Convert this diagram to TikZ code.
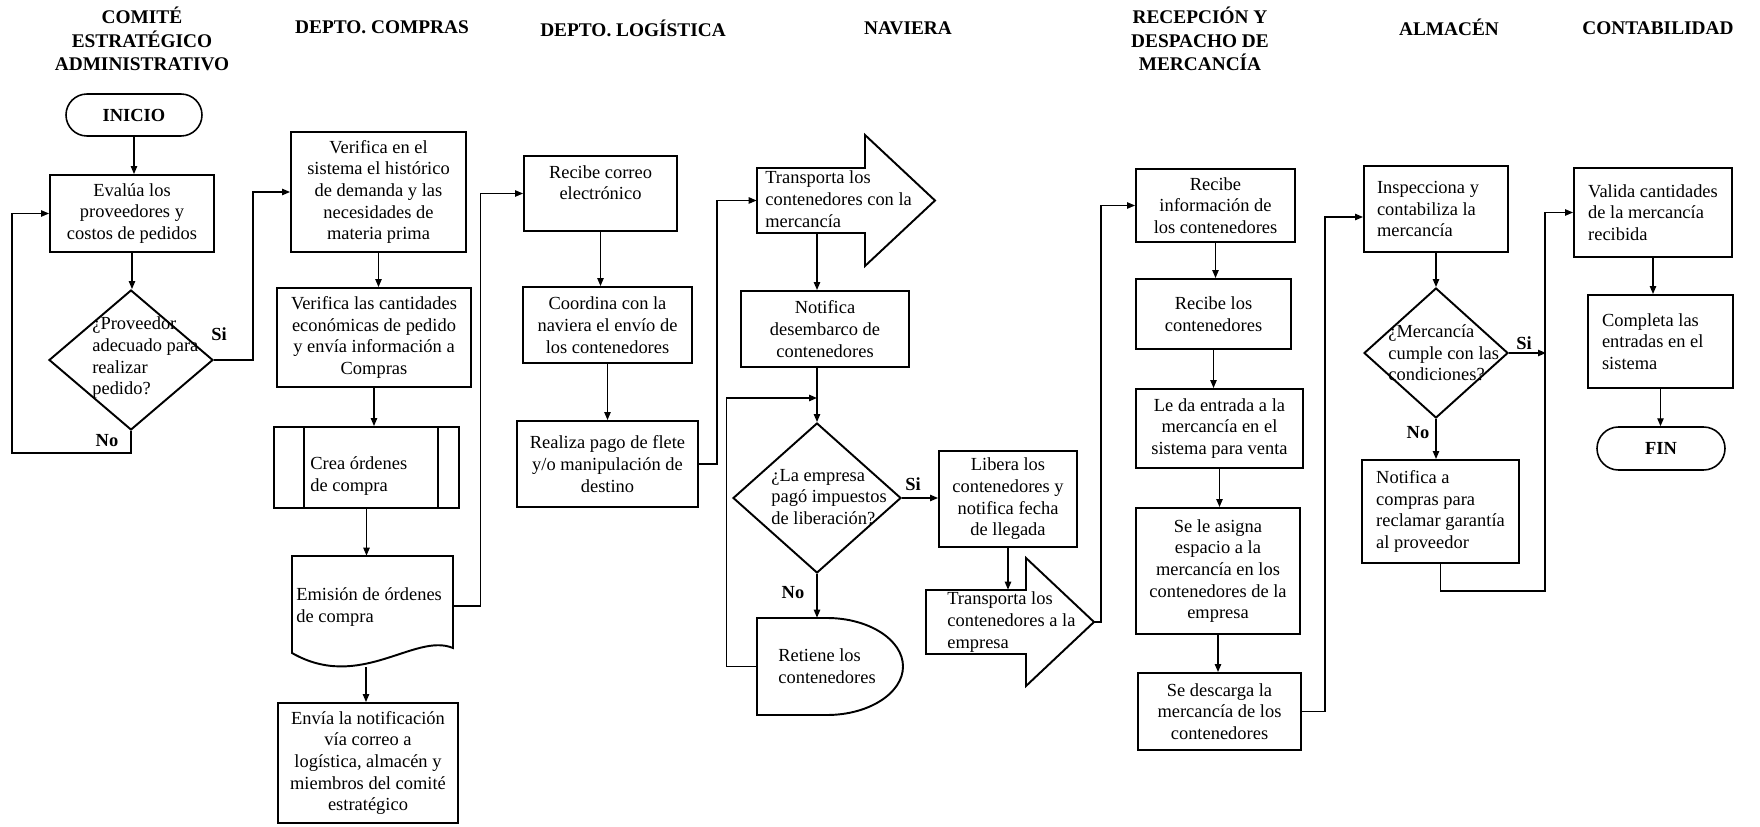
\documentclass[tikz,border=0pt]{standalone}
\usepackage{fontspec}
\setmainfont{Liberation Serif}
\usetikzlibrary{shapes.geometric, shapes.misc, arrows.meta}

% one pixel of the original layout
\newcommand{\pxl}{0.2mm}

\begin{document}
\begin{tikzpicture}[
    x=\pxl, y=-\pxl,
    every node/.style={text=black, inner sep=0pt, font=\fontsize{10.5}{12.35}\selectfont},
    lane/.style={font=\bfseries\fontsize{11}{13.4}\selectfont, align=center},
    proc/.style 2 args={draw, line width=1.1pt, minimum width=#1*\pxl, minimum height=#2*\pxl, align=center},
    term/.style 2 args={draw, rounded rectangle, line width=0.9pt, minimum width=#1*\pxl, minimum height=#2*\pxl, font=\bfseries\fontsize{10.5}{12.35}\selectfont},
    decision/.style 2 args={draw, diamond, line width=1.1pt, minimum width=#1*\pxl, minimum height=#2*\pxl},
    ghost/.style 2 args={minimum width=#1*\pxl, minimum height=#2*\pxl},
    dtext/.style={anchor=west, align=left},
    yesno/.style={font=\bfseries\fontsize{10.5}{12.35}\selectfont},
    outline/.style={line width=1.1pt},
    arr/.style={line width=0.75pt, -{Triangle[length=4.5pt, width=3.6pt]}}
]

    \fill[white] (0,0) rectangle (1760,827);
    \useasboundingbox (0,0) rectangle (1760,827);

    % ==========================
    % LANE TITLES
    % ==========================
    \foreach \nm/\x/\y/\txt in {
        tcom/142/39/{COMITÉ\\ESTRATÉGICO\\ADMINISTRATIVO},
        tcomp/382/27/{DEPTO. COMPRAS},
        tlog/633/28/{DEPTO. LOGÍSTICA},
        tnav/908/28/{NAVIERA},
        trec/1200/39/{RECEPCIÓN Y\\DESPACHO DE\\MERCANCÍA},
        talm/1449/27/{ALMACÉN},
        tcont/1658/28/{CONTABILIDAD}}
    {
        \node[lane] (\nm) at (\x,\y) {\txt};
    }

    % ==========================
    % COMITE
    % ==========================
    \node[term={136}{42}] (inicio) at (134,115) {INICIO};
    \node[proc={164}{77}] (evalua) at (132,213.5) {Evalúa los\\proveedores y\\costos de pedidos};
    \node[decision={164}{140}] (prov) at (131,360) {};

    % ==========================
    % COMPRAS
    % ==========================
    \node[proc={175}{120}] (ver1) at (378.5,192) {Verifica en el\\sistema el histórico\\de demanda y las\\necesidades de\\materia prima};
    \node[proc={194}{99}] (ver2) at (374,337.5) {Verifica las cantidades\\económicas de pedido\\y envía información a\\Compras};
    \node[proc={185}{81}] (crea) at (366.5,467.5) {};
    \draw[outline] ([xshift=6.2mm]crea.north west) -- ([xshift=6.2mm]crea.south west);
    \draw[outline] ([xshift=-4.4mm]crea.north east) -- ([xshift=-4.4mm]crea.south east);
    \node[dtext] (creatxt) at (310,476) {Crea órdenes\\de compra};

    % document shape with wavy bottom
    \node[ghost={161}{100}] (emision) at (372.5,606) {};
    \draw[outline] (292,556) -- (453,556) -- (453,648)
        .. controls (415,632) and (360,692) .. (292,653) -- cycle;
    \node[dtext] (emisiontxt) at (296,607) {Emisión de órdenes\\de compra};
    \coordinate (embot) at (366,667);

    \node[proc={180}{120}] (envia) at (368,763) {Envía la notificación\\vía correo a\\logística, almacén y\\miembros del comité\\estratégico};

    % ==========================
    % LOGISTICA
    % ==========================
    \node[proc={153}{75}] (recibe) at (600.5,193.5) {Recibe correo\\electrónico\\\mbox{}};
    \node[proc={169}{76}] (coord) at (607.5,325) {Coordina con la\\naviera el envío de\\los contenedores};
    \node[proc={181}{86}] (realiza) at (607.5,464) {Realiza pago de flete\\y/o manipulación de\\destino};

    % ==========================
    % NAVIERA
    % ==========================
    \node[ghost={108}{65}] (trans1) at (811,200.5) {};
    \draw[outline] (757,168) -- (865,168) -- (865,135) -- (935,200.5)
        -- (865,266) -- (865,233) -- (757,233) -- cycle;
    \node[dtext] (trans1txt) at (765,199) {Transporta los\\contenedores con la\\mercancía};

    \node[proc={168}{76}] (notif) at (825,329) {Notifica\\desembarco de\\contenedores};
    \node[decision={168}{150}] (pago) at (817,498) {};
    \coordinate (merge) at (817,398);

    % delay shape
    \node[ghost={146}{97}] (retiene) at (830,666.5) {};
    \draw[outline] (757,618) -- (827,618) .. controls (869,618) and (903,640) .. (903,666.5)
        .. controls (903,693) and (869,715) .. (827,715) -- (757,715) -- cycle;
    \node[dtext] (retienetxt) at (778,666) {Retiene los\\contenedores};

    \node[proc={138}{96}] (libera) at (1008,499) {Libera los\\contenedores y\\notifica fecha\\de llegada};

    \node[ghost={100}{64}] (trans2) at (976,622) {};
    \draw[outline] (926,590) -- (1026,590) -- (1026,558) -- (1094,622)
        -- (1026,686) -- (1026,654) -- (926,654) -- cycle;
    \coordinate (t2tip) at (1094,622);
    \node[dtext] (trans2txt) at (947,622) {Transporta los\\contenedores a la\\empresa};

    % ==========================
    % RECEPCION
    % ==========================
    \node[proc={159}{73}] (recinfo) at (1215.5,205.5) {Recibe\\información de\\los contenedores};
    \node[proc={155}{70}] (reclos) at (1213.5,314) {Recibe los\\contenedores};
    \node[proc={167}{79}] (leda) at (1219.5,428.5) {Le da entrada a la\\mercancía en el\\sistema para venta};
    \node[proc={164}{126}] (asigna) at (1218,571) {Se le asigna\\espacio a la\\mercancía en los\\contenedores de la\\empresa};
    \node[proc={163}{77}] (descarga) at (1219.5,711.5) {Se descarga la\\mercancía de los\\contenedores};

    % ==========================
    % ALMACEN
    % ==========================
    \node[proc={144}{86}, text width=23.6mm, align=flush left] (insp) at (1436,209) {Inspecciona y\\contabiliza la\\mercancía};
    \node[decision={144}{130}] (merc) at (1436,353) {};
    \node[proc={157}{103}, align=left] (notcomp) at (1440.5,511.5) {Notifica a\\compras para\\reclamar garantía\\al proveedor};

    % ==========================
    % CONTABILIDAD
    % ==========================
    \node[proc={158}{89}, align=left] (valida) at (1653,212.5) {Valida cantidades\\de la mercancía\\recibida};
    \node[proc={145}{93}, text width=23.4mm, align=flush left] (completa) at (1660.5,341.5) {Completa las\\entradas en el\\sistema};
    \node[term={128}{43}] (fin) at (1661,448.5) {FIN};

    % questions inside the diamonds
    \foreach \nm/\x/\y/\txt in {
        provtxt/92/358/{¿Proveedor\\adecuado para\\realizar\\pedido?},
        pagotxt/771/497/{¿La empresa\\pagó impuestos\\de liberación?},
        merctxt/1388/353/{¿Mercancía\\cumple con las\\condiciones?}}
    {
        \node[dtext] (\nm) at (\x,\y) {\txt};
    }

    % branch labels
    \foreach \nm/\x/\y/\txt in {si1/219/334/Si, no1/107/441/No, si2/913/484/Si,
                                no2/793/593/No, si3/1524/343/Si, no3/1418/433/No}
    {
        \node[yesno] (\nm) at (\x,\y) {\txt};
    }

    % ==========================
    % CONNECTORS
    % ==========================
    \draw[arr] (inicio.south) -- (inicio.south |- evalua.north);
    \draw[arr] (evalua.south) -- (evalua.south |- prov.north);
    \draw[arr] (prov.east) -- ++(39,0) |- (ver1.west);
    \draw[arr] (prov.south) -- ++(0,22) -- ++(-119,0) |- (evalua.west);

    \draw[arr] (ver1.south) -- (ver1.south |- ver2.north);
    \draw[arr] (ver2.south) -- (ver2.south |- crea.north);
    \draw[arr] (crea.south) -- (crea.south |- emision.north);
    \draw[arr] (embot) -- (embot |- envia.north);
    \draw[arr] (emision.east) -- ++(27,0) |- (recibe.west);

    \draw[arr] (recibe.south) -- (recibe.south |- coord.north);
    \draw[arr] (coord.south) -- (coord.south |- realiza.north);
    \draw[arr] (realiza.east) -- ++(18,0) |- (trans1.west);

    \draw[arr] (trans1.south -| pago.north) -- (notif.north -| pago.north);
    \draw[arr] (notif.south -| pago.north) -- (pago.north);
    \draw[arr] (pago.east) -- (pago.east -| libera.west);
    \draw[arr] (pago.south) -- (pago.south |- retiene.north);
    \draw[arr] (retiene.west) -- ++(-30,0) |- (merge);
    \draw[arr] (libera.south) -- (libera.south |- trans2.north);
    \draw[arr] (t2tip) -- ++(7,0) |- (recinfo.west);

    \draw[arr] (recinfo.south) -- (recinfo.south |- reclos.north);
    \draw[arr] (reclos.south) -- (reclos.south |- leda.north);
    \draw[arr] (leda.south) -- (leda.south |- asigna.north);
    \draw[arr] (asigna.south) -- (asigna.south |- descarga.north);
    \draw[arr] (descarga.east) -- ++(23,0) |- ([yshift=-1.6mm]insp.west);

    \draw[arr] (insp.south) -- (insp.south |- merc.north);
    \draw[arr] (merc.south) -- (merc.south |- notcomp.north);
    \draw[arr] (merc.east) -- ++(37,0);
    \draw[arr] (notcomp.south) -- ++(0,27) -- ++(104.5,0) |- (valida.west);

    \draw[arr] (valida.south) -- (valida.south |- completa.north);
    \draw[arr] (completa.south) -- (completa.south |- fin.north);

\end{tikzpicture}
\end{document}
